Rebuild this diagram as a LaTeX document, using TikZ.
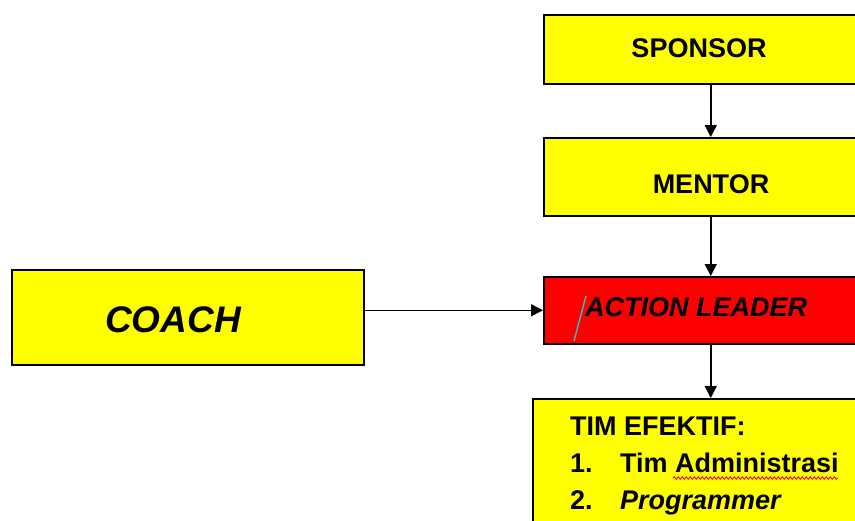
\documentclass[tikz,border=0pt]{standalone}
\usepackage{fontspec}
\setmainfont{Liberation Sans}
\usetikzlibrary{arrows.meta,decorations.pathmorphing}
\definecolor{boxyellow}{HTML}{FFFF00}
\definecolor{boxred}{HTML}{FF0000}
\definecolor{cursorcyan}{HTML}{40B8C8}
\begin{document}
\begin{tikzpicture}[x=1pt,y=-1pt,
  ybox/.style={draw=black,line width=1.5pt,fill=boxyellow,rectangle,anchor=north west,inner sep=0pt},
  rbox/.style={ybox,fill=boxred},
  lbl/.style={font=\bfseries\fontsize{27}{32}\selectfont,inner sep=0pt},
  ilbl/.style={font=\bfseries\itshape\fontsize{27}{32}\selectfont,inner sep=0pt},
  conn/.style={draw=black,line width=1.5pt,-{Triangle[width=12pt,length=12pt]}}]
\useasboundingbox (0,0) rectangle (855,520);
\clip (0,0) rectangle (855,520);
% boxes
\node[ybox,minimum width=334pt,minimum height=69pt] (sponsor) at (543,14) {};
\node[ybox,minimum width=334pt,minimum height=78pt] (mentor) at (543,137) {};
\node[rbox,minimum width=334pt,minimum height=67pt] (action) at (543,276) {};
\node[ybox,minimum width=356pt,minimum height=140pt] (team) at (532,398) {};
\node[ybox,minimum width=352pt,minimum height=95pt] (coach) at (11,269) {};
% labels
\node[lbl] (sponsorT) at (699,48) {SPONSOR};
\node[lbl] (mentorT) at (711,184) {MENTOR};
\node[ilbl,anchor=west] (actionT) at (585,307) {ACTION LEADER};
\node[font=\bfseries\itshape\fontsize{37}{44}\selectfont,inner sep=0pt] (coachT) at (173,320) {COACH};
\node[lbl,anchor=base west] (teamT) at (570,435) {TIM EFEKTIF:};
\node[lbl,anchor=base west] (n1) at (570,472) {1.};
\node[lbl,anchor=base west] (i1) at (620,472) {Tim Administrasi};
\node[lbl,anchor=base west] (n2) at (570,509) {2.};
\node[ilbl,anchor=base west] (i2) at (620,509) {Programmer};
% cursor mark and spell-check underline
\draw[cursorcyan,line width=1.4pt] (574,341) -- (586,296);
\draw[red,line width=0.9pt,decorate,
  decoration={snake,amplitude=1.3pt,segment length=4pt}] (673,478) -- (838,478);
% connectors
\draw[conn] (sponsor.south) -- (mentor.north);
\draw[conn] (mentor.south) -- (action.north);
\draw[conn] (action.south) -- (team.north -| action.south);
\draw[conn] (coach.east |- action.west) -- (action.west);
\end{tikzpicture}
\end{document}
